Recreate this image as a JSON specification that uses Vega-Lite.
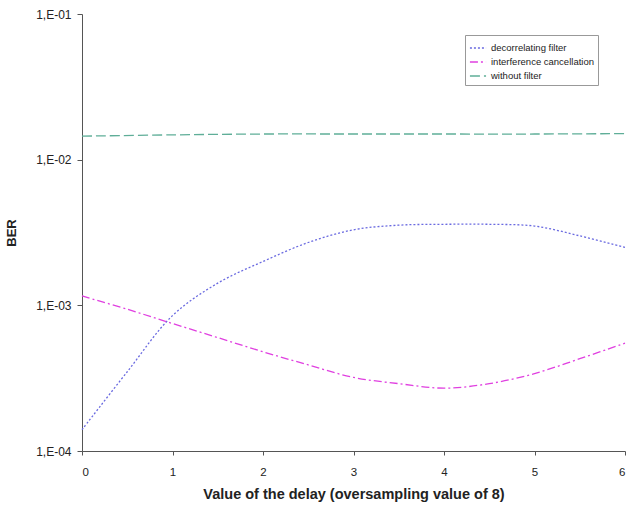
{
  "$schema": "https://vega.github.io/schema/vega-lite/v6.json",
  "autosize": {"type": "none"},
  "width": 543,
  "height": 437,
  "padding": {"left": 82, "top": 14, "right": 3, "bottom": 55},
  "background": "white",
  "config": {
    "font": "Liberation Sans",
    "view": {"stroke": null}
  },
  "data": {
    "values": [
      {"delay": 0, "ber": 0.00014, "series": "decorrelating filter"},
      {"delay": 0.5, "ber": 0.00035, "series": "decorrelating filter"},
      {"delay": 1, "ber": 0.00085, "series": "decorrelating filter"},
      {"delay": 1.5, "ber": 0.00142, "series": "decorrelating filter"},
      {"delay": 2, "ber": 0.002, "series": "decorrelating filter"},
      {"delay": 2.5, "ber": 0.0027, "series": "decorrelating filter"},
      {"delay": 3, "ber": 0.0033, "series": "decorrelating filter"},
      {"delay": 3.5, "ber": 0.00355, "series": "decorrelating filter"},
      {"delay": 4, "ber": 0.0036, "series": "decorrelating filter"},
      {"delay": 4.5, "ber": 0.0036, "series": "decorrelating filter"},
      {"delay": 5, "ber": 0.0035, "series": "decorrelating filter"},
      {"delay": 5.5, "ber": 0.003, "series": "decorrelating filter"},
      {"delay": 6, "ber": 0.0025, "series": "decorrelating filter"},
      {"delay": 0, "ber": 0.00116, "series": "interference cancellation"},
      {"delay": 0.5, "ber": 0.00094, "series": "interference cancellation"},
      {"delay": 1, "ber": 0.00075, "series": "interference cancellation"},
      {"delay": 1.5, "ber": 0.0006, "series": "interference cancellation"},
      {"delay": 2, "ber": 0.00048, "series": "interference cancellation"},
      {"delay": 2.5, "ber": 0.00039, "series": "interference cancellation"},
      {"delay": 3, "ber": 0.00032, "series": "interference cancellation"},
      {"delay": 3.5, "ber": 0.00029, "series": "interference cancellation"},
      {"delay": 4, "ber": 0.00027, "series": "interference cancellation"},
      {"delay": 4.5, "ber": 0.00029, "series": "interference cancellation"},
      {"delay": 5, "ber": 0.00034, "series": "interference cancellation"},
      {"delay": 5.5, "ber": 0.00043, "series": "interference cancellation"},
      {"delay": 6, "ber": 0.00055, "series": "interference cancellation"},
      {"delay": 0, "ber": 0.0145, "series": "without filter"},
      {"delay": 1, "ber": 0.0148, "series": "without filter"},
      {"delay": 2, "ber": 0.015, "series": "without filter"},
      {"delay": 3, "ber": 0.015, "series": "without filter"},
      {"delay": 4, "ber": 0.015, "series": "without filter"},
      {"delay": 5, "ber": 0.015, "series": "without filter"},
      {"delay": 6, "ber": 0.0151, "series": "without filter"}
    ]
  },
  "mark": {"type": "line", "interpolate": "catmull-rom", "strokeWidth": 1.3},
  "encoding": {
    "x": {
      "field": "delay",
      "type": "quantitative",
      "scale": {"domain": [0, 6], "nice": false},
      "axis": {
        "values": [0, 1, 2, 3, 4, 5, 6],
        "format": "d",
        "grid": false,
        "title": "Value of the delay (oversampling value of 8)",
        "titleFont": "Liberation Sans",
        "titleFontSize": 14.5,
        "titleFontWeight": "bold",
        "titleColor": "#222",
        "titlePadding": 10,
        "labelFontSize": 11.5,
        "labelColor": "#222",
        "labelPadding": 11,
        "domainColor": "#555",
        "tickColor": "#555",
        "tickSize": 4
      }
    },
    "y": {
      "field": "ber",
      "type": "quantitative",
      "scale": {"type": "log", "domain": [0.0001, 0.1], "nice": false},
      "axis": {
        "values": [0.0001, 0.001, 0.01, 0.1],
        "labelExpr": "'1,E-0' + round(-log(datum.value)/LN10)",
        "grid": false,
        "title": "BER",
        "titleFont": "Liberation Sans",
        "titleFontSize": 13,
        "titleFontWeight": "bold",
        "titleColor": "#222",
        "titlePadding": 17,
        "labelFontSize": 12,
        "labelColor": "#222",
        "labelPadding": 6,
        "domainColor": "#555",
        "tickColor": "#555",
        "tickSize": 5
      }
    },
    "color": {
      "field": "series",
      "type": "nominal",
      "scale": {
        "domain": ["decorrelating filter", "interference cancellation", "without filter"],
        "range": ["#6a6ae0", "#e040e0", "#5fae98"]
      },
      "legend": {
        "title": null,
        "orient": "none",
        "legendX": 383,
        "legendY": 21,
        "fillColor": "white",
        "strokeColor": "#999",
        "padding": 4,
        "labelFontSize": 9.5,
        "labelColor": "#222",
        "symbolType": "stroke",
        "symbolSize": 260,
        "symbolStrokeWidth": 1.5,
        "rowPadding": 0,
        "labelOffset": 4
      }
    },
    "strokeDash": {
      "field": "series",
      "type": "nominal",
      "scale": {
        "domain": ["decorrelating filter", "interference cancellation", "without filter"],
        "range": [[2, 2], [8, 3, 2, 3], [10, 4]]
      },
      "legend": null
    }
  }
}
